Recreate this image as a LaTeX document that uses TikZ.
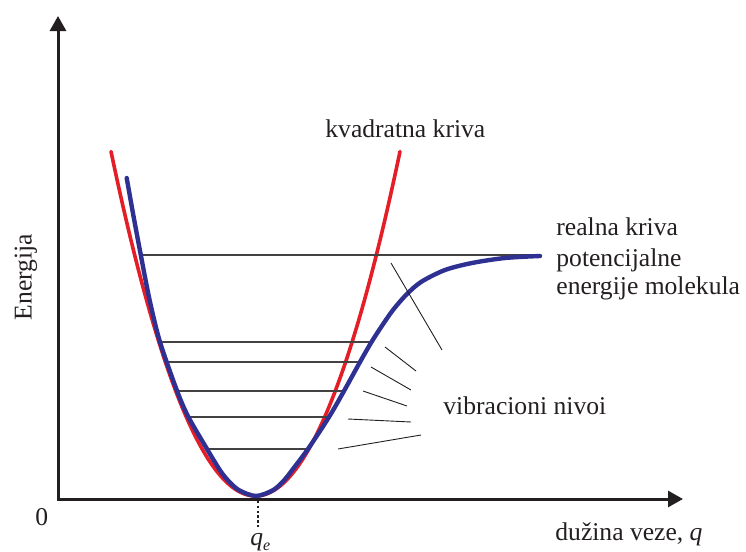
\documentclass[tikz,border=0pt]{standalone}
\usepackage{fontspec}
\setmainfont{Liberation Serif}
\usetikzlibrary{arrows.meta}
\definecolor{krivared}{RGB}{228,30,38}
\definecolor{krivablue}{RGB}{46,49,146}
\definecolor{osa}{RGB}{35,31,32}

\begin{document}
\begin{tikzpicture}[
  x=0.5pt, y=-0.5pt,
  axis/.style={line width=1.5pt, draw=osa, line join=miter,
               {Triangle[length=7.5pt,width=8pt]}-{Triangle[length=7.5pt,width=8pt]}},
  kvad/.style={line width=1.8pt, draw=krivared, line cap=round},
  morse/.style={line width=2.2pt, draw=krivablue, line cap=round, line join=round},
  nivo/.style={line width=0.8pt, draw=osa!85},
  pokaz/.style={line width=0.45pt, draw=osa},
  lbl/.style={font=\fontsize{12.8}{15}\selectfont, text=osa, inner sep=0pt},
]
\useasboundingbox (0,0) rectangle (746,552);
% axes
\coordinate (O) at (58,499);
\coordinate (ytop) at (58,16);
\coordinate (xend) at (683,499);
\draw[axis] (ytop) -- (O) -- (xend);
\draw[osa, line width=0.8pt, dash pattern=on 1.2pt off 1.2pt] (258,501) -- (258,528);
% quadratic (harmonic) curve
\draw[kvad] plot[domain=111:400, samples=90] (\x, {496-1.65*((\x-255.5)/10)^2});
% vibrational levels
\foreach \y/\a/\b in {255/141/540, 342/160/371.5, 362/166.6/360, 391/177/344, 417/188.4/329, 449/207/308}
  \draw[nivo] (\a,\y) -- (\b,\y);
% real potential curve
\draw[morse] plot[smooth, tension=0.5] coordinates {
  (126.7,178) (133.3,215) (140.8,255) (149.6,300) (160,342) (177.1,391)
  (188.4,417) (207,449) (219.8,470) (227.6,480) (238.7,490) (256,496)
  (273.3,490) (284.4,480) (292.2,470) (308,449) (329,417) (344,391)
  (360,362) (371.5,342) (382.5,325) (393,310) (406,295) (421,282)
  (445,270) (472,263) (505,258) (540,256)};
% pointer lines
\foreach \xa/\ya/\xb/\yb in {391/263/442/350, 385/347/416/371, 371/367/411/390,
                             363/391/407/406, 348/419/411/422, 338/449/421/435}
  \draw[pokaz] (\xa,\ya) -- (\xb,\yb);
% labels
\node[lbl, anchor=base west] (kvadlbl) at (325,137) {kvadratna kriva};
\node[lbl, anchor=base west] (real1) at (556,235) {realna kriva};
\node[lbl, anchor=base west] (real2) at (556,266) {potencijalne};
\node[lbl, anchor=base west] (real3) at (556,294) {energije molekula};
\node[lbl, anchor=base west] (vibrlbl) at (443,414) {vibracioni nivoi};
\node[lbl, anchor=base west] (xlbl) at (555,540) {dužina veze, \textit{q}};
\node[lbl, anchor=base west] (nula) at (35,525) {0};
\node[lbl, anchor=base west] (qe) at (250,545) {\textit{q}\raisebox{-2.5pt}{\fontsize{8}{9}\selectfont\textit{e}}};
\node[lbl, rotate=90] (ylbl) at (26,277) {Energija};
\end{tikzpicture}
\end{document}
